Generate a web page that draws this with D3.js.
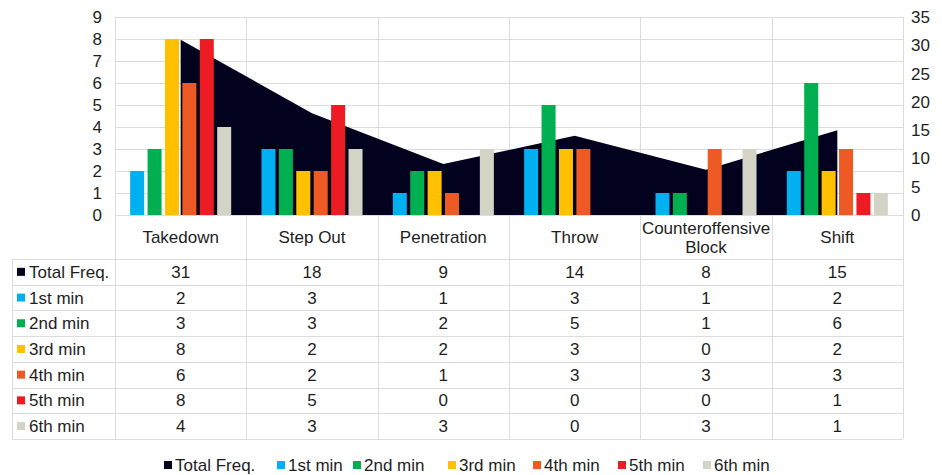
<!DOCTYPE html>
<html><head><meta charset="utf-8">
<script src="https://cdn.jsdelivr.net/npm/d3@7"></script>
<style>body{margin:0;background:#fff;} svg{display:block;font-family:"Liberation Sans",Arial,sans-serif;}</style>
</head><body><svg id="c" width="942" height="475"></svg>
<script>
const categories = ["Takedown","Step Out","Penetration","Throw","Counteroffensive Block","Shift"];
const totalFreq = [31,18,9,14,8,15];
const min1 = [2,3,1,3,1,2];
const min2 = [3,3,2,5,1,6];
const min3 = [8,2,2,3,0,2];
const min4 = [6,2,1,3,3,3];
const min5 = [8,5,0,0,0,1];
const min6 = [4,3,3,0,3,1];
const seriesNames = ["Total Freq.","1st min","2nd min","3rd min","4th min","5th min","6th min"];
const colors = ["#02021f","#00b0f0","#00b050","#ffc000","#ee5a24","#ed1c24","#d4d4c6"];
const leftTicks = [0,1,2,3,4,5,6,7,8,9];
const rightTicks = [0,5,10,15,20,25,30,35];

const minuteSeries = [min1,min2,min3,min4,min5,min6];
const svg = d3.select("#c");
const L = 115, R = 903, T = 17, B = 215;
const grid = "#dcdcdc", txt = "#1e1e1e", fs = 17;

const x = d3.scaleBand().domain(categories).range([L,R]).padding(0);
const x1 = d3.scaleBand().domain(d3.range(6)).range([0,x.bandwidth()]).paddingInner(0.195).paddingOuter(0.87);
const yL = d3.scaleLinear().domain([0,9]).range([B,T]);
const yR = d3.scaleLinear().domain([0,35]).range([B,T]);

// horizontal gridlines
svg.append("g").selectAll("line").data(leftTicks).join("line")
  .attr("x1",L).attr("x2",R).attr("y1",d=>Math.round(yL(d))+0.5).attr("y2",d=>Math.round(yL(d))+0.5)
  .attr("stroke",grid).attr("stroke-width",1);

// table geometry
const rowH = 25.7, tableTop = 259, tableLeft = 12;
const nRows = 7;
const tableBottom = tableTop + rowH*nRows;

// vertical lines
const vx = categories.map(c=>x(c)).concat([R]);
svg.append("g").selectAll("line").data(vx).join("line")
  .attr("x1",d=>Math.round(d)+0.5).attr("x2",d=>Math.round(d)+0.5).attr("y1",T).attr("y2",tableBottom)
  .attr("stroke",grid);
// table horizontal lines
svg.append("g").selectAll("line").data(d3.range(nRows+1)).join("line")
  .attr("x1",tableLeft).attr("x2",R).attr("y1",d=>Math.round(tableTop+d*rowH)+0.5).attr("y2",d=>Math.round(tableTop+d*rowH)+0.5)
  .attr("stroke",grid);
svg.append("line").attr("x1",tableLeft+0.5).attr("x2",tableLeft+0.5).attr("y1",tableTop).attr("y2",tableBottom).attr("stroke",grid);

// area
const area = d3.area().x((d,i)=>x(categories[i])+x.bandwidth()/2).y0(yR(0)).y1(d=>yR(d));
svg.append("path").datum(totalFreq).attr("d",area).attr("fill",colors[0]);

// bars
minuteSeries.forEach((s,si)=>{
  svg.append("g").selectAll("rect").data(s).join("rect")
    .attr("x",(d,i)=>x(categories[i])+x1(si))
    .attr("width",x1.bandwidth())
    .attr("y",d=>yL(d)).attr("height",d=>yL(0)-yL(d))
    .attr("fill",colors[si+1]);
});

// left axis labels
svg.append("g").selectAll("text").data(leftTicks).join("text")
  .attr("x",102).attr("y",d=>yL(d)).attr("dy","0.35em").attr("text-anchor","end")
  .attr("font-size",fs).attr("fill",txt).text(d=>d);
// right axis labels
svg.append("g").selectAll("text").data(rightTicks).join("text")
  .attr("x",911).attr("y",d=>yR(d)).attr("dy","0.35em").attr("text-anchor","start")
  .attr("font-size",fs).attr("fill",txt).text(d=>d);

// category headers
categories.forEach(c=>{
  const cx = x(c)+x.bandwidth()/2;
  const words = c==="Counteroffensive Block" ? ["Counteroffensive","Block"] : [c];
  const t = svg.append("text").attr("x",cx).attr("text-anchor","middle").attr("font-size",fs).attr("fill",txt);
  if(words.length===1){ t.attr("y",237).attr("dy","0.35em").text(c); }
  else {
    words.forEach((w,k)=>t.append("tspan").attr("x",cx).attr("y",228+k*19).attr("dy","0.35em").text(w));
  }
});

// table rows
const allSeries = [totalFreq].concat(minuteSeries);
allSeries.forEach((s,ri)=>{
  const cy = tableTop + rowH*ri + rowH/2;
  svg.append("rect").attr("x",17).attr("y",cy-4).attr("width",8).attr("height",8).attr("fill",colors[ri]);
  svg.append("text").attr("x",29).attr("y",cy).attr("dy","0.35em").attr("font-size",fs).attr("fill",txt).text(seriesNames[ri]);
  svg.append("g").selectAll("text").data(s).join("text")
    .attr("x",(d,i)=>x(categories[i])+x.bandwidth()/2).attr("y",cy).attr("dy","0.35em")
    .attr("text-anchor","middle").attr("font-size",fs).attr("fill",txt).text(d=>d);
});

// legend
const legX = [164,277,353,448,533,618,703];
seriesNames.forEach((n,i)=>{
  svg.append("rect").attr("x",legX[i]).attr("y",461).attr("width",8).attr("height",8).attr("fill",colors[i]);
  svg.append("text").attr("x",legX[i]+11).attr("y",465).attr("dy","0.35em").attr("font-size",fs).attr("fill",txt).text(n);
});
</script></body></html>
